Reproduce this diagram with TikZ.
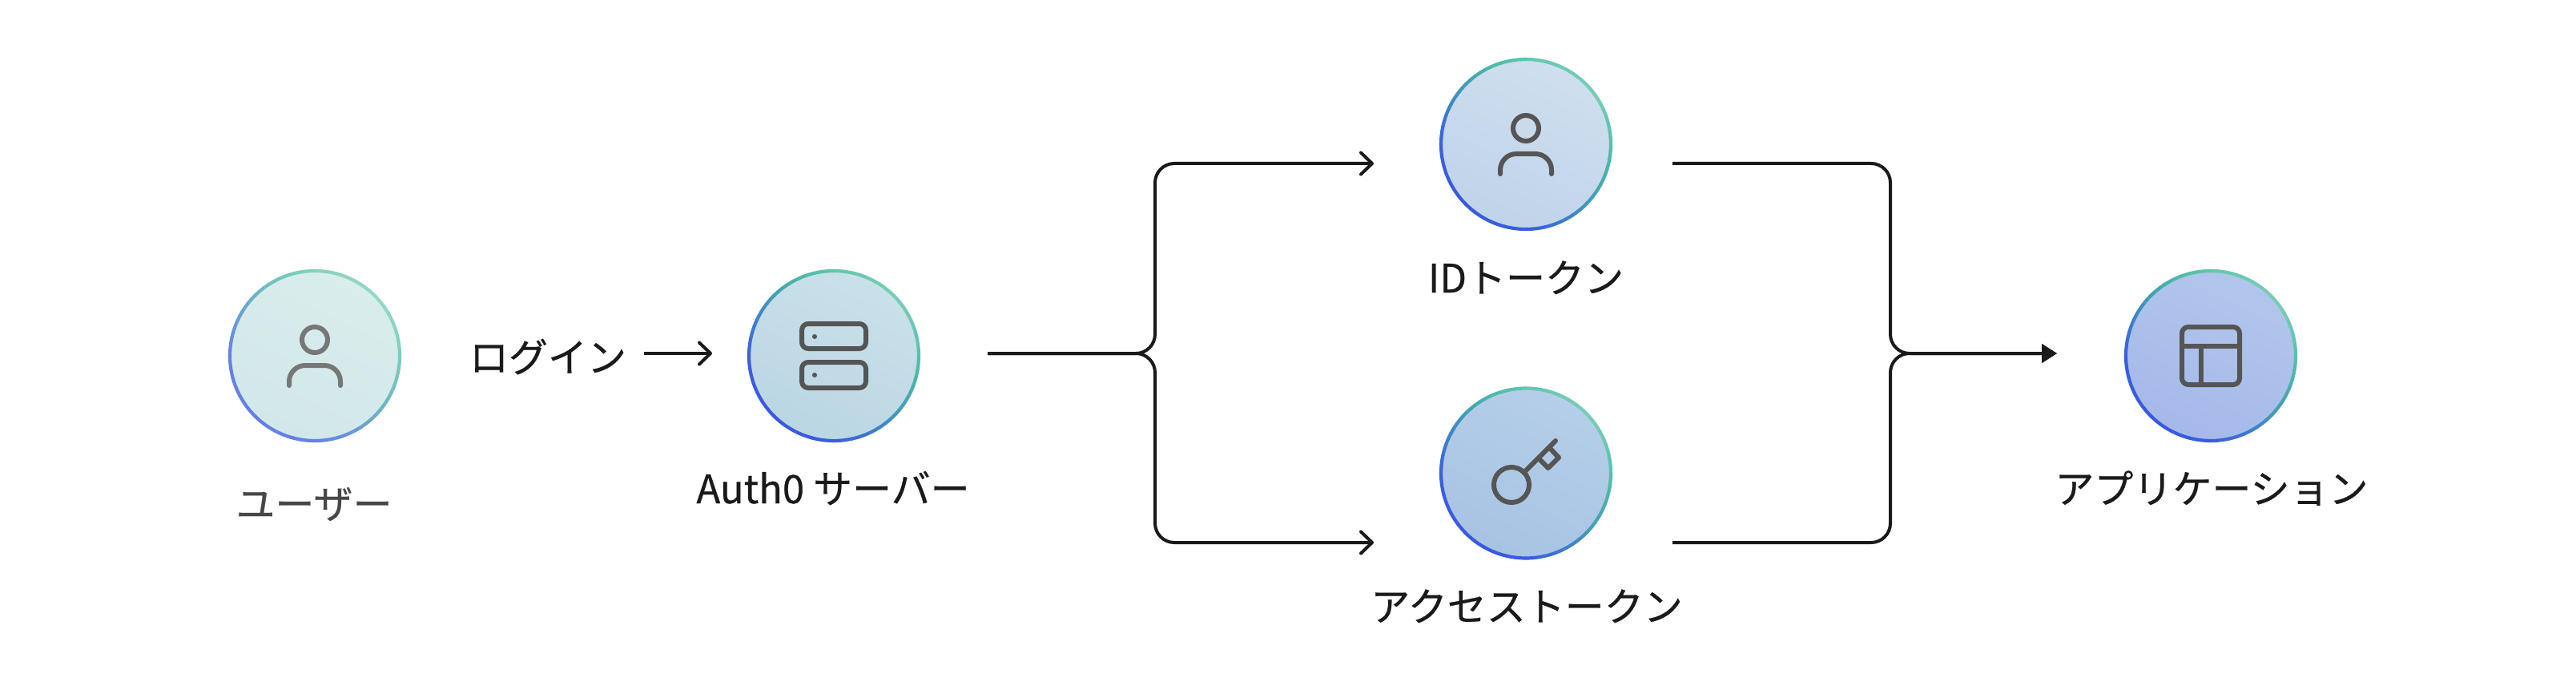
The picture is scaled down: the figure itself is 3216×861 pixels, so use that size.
\documentclass[tikz,border=0pt]{standalone}
\usepackage{fontspec}
\setmainfont[RawFeature={embolden=0.5}]{Noto Sans CJK JP}
\usetikzlibrary{arrows.meta}
\definecolor{ink}{HTML}{1A1A1A}
\definecolor{iconc}{HTML}{555555}
\definecolor{iconl}{HTML}{777777}
\definecolor{ua}{HTML}{D9EDEB}\definecolor{ub}{HTML}{D2E7EA}
\definecolor{aa}{HTML}{CAE1EA}\definecolor{ab}{HTML}{BAD6E3}
\definecolor{ia}{HTML}{CFDFEE}\definecolor{ib}{HTML}{BFD3EA}
\definecolor{ka}{HTML}{B5CFE9}\definecolor{kb}{HTML}{A8C3E3}
\definecolor{pa}{HTML}{B2C6EC}\definecolor{pb}{HTML}{A4B9E9}
% ring stops
\definecolor{s0}{HTML}{3A5CE2}\definecolor{s1}{HTML}{3F78D2}\definecolor{s2}{HTML}{429EB6}
\definecolor{s3}{HTML}{50BAA8}\definecolor{s4}{HTML}{58C0AC}\definecolor{s5}{HTML}{72CCB4}
\definecolor{s6}{HTML}{78CEB8}\definecolor{s7}{HTML}{62C6AE}\definecolor{s8}{HTML}{50BCA8}
\definecolor{s9}{HTML}{3FA0B4}\definecolor{s10}{HTML}{3F80CC}\definecolor{s11}{HTML}{3A60DC}
\definecolor{s12}{HTML}{3A58E2}
\tikzset{
  conn/.style={draw=ink,line width=4pt,rounded corners=24pt},
  openhead/.style={-{Straight Barb[length=14pt,width=27pt,line width=4pt,round]}},
  solidhead/.style={-{Triangle[length=19pt,width=23pt,fill=ink]}},
  lbl/.style={anchor=base,font=\fontsize{49}{56}\selectfont,text=ink,inner sep=0pt},
  icon/.style={draw=iconc,line width=6pt,line cap=round,line join=round},
  disc/.style={circle,minimum size=214pt,inner sep=0pt},
}
% #1 centre node, #2 percent of ring colour (rest white)
\newcommand{\ringat}[2]{%
  \foreach \angA/\angB/\colA/\colB in {-90/-65/s0/s1,-65/-40/s1/s2,-40/-10/s2/s3,-10/0/s3/s4,0/30/s4/s5,30/45/s5/s6,45/90/s6/s7,90/110/s7/s8,110/135/s8/s9,135/155/s9/s10,155/180/s10/s11,180/225/s11/s12,225/270/s12/s0}{%
    \foreach \k in {0,...,5}{%
      \pgfmathsetmacro{\startang}{\angA+(\angB-\angA)*\k/6}%
      \pgfmathsetmacro{\sweep}{(\angB-\angA)/6+0.3}%
      \pgfmathsetmacro{\mixp}{100-100*(\k+0.5)/6}%
      \colorlet{segc}{\colA!\mixp!\colB}%
      \draw[draw=segc!#2!white,line width=4.2pt] (#1.center) ++(\startang:106pt) arc[start angle=\startang,delta angle=\sweep,radius=106pt];
    }%
  }}
\begin{document}
\begin{tikzpicture}[x=1pt,y=-1pt]
\useasboundingbox (0,0) rectangle (3216,861);
\fill[white] (0,0) rectangle (3216,861);

% discs
\node[disc,top color=ua,bottom color=ub,shading angle=-25] (user) at (393,444) {};
\node[disc,top color=aa,bottom color=ab,shading angle=-25] (auth) at (1041,444) {};
\node[disc,top color=ia,bottom color=ib,shading angle=-25] (idt) at (1905,180) {};
\node[disc,top color=ka,bottom color=kb,shading angle=-25] (acc) at (1905,590.5) {};
\node[disc,top color=pa,bottom color=pb,shading angle=-25] (app) at (2760,444) {};
\ringat{user}{78}
\ringat{auth}{100}
\ringat{idt}{100}
\ringat{acc}{100}
\ringat{app}{100}

% user icon
\draw[icon,draw=iconl] (393,424) circle (16pt);
\draw[icon,draw=iconl,rounded corners=20pt] (361,481) -- (361,456) -- (425,456) -- (425,481);
% id icon
\draw[icon] (1905,160) circle (16pt);
\draw[icon,rounded corners=20pt] (1873,217) -- (1873,192) -- (1937,192) -- (1937,217);
% server icon
\draw[icon,rounded corners=8pt] (1001,404) rectangle (1081,435);
\draw[icon,rounded corners=8pt] (1001,452) rectangle (1081,484);
\fill[iconc] (1017,420) circle (3pt);
\fill[iconc] (1017,468) circle (3pt);
% key icon
\draw[icon] (1887,605) circle (22pt);
\draw[icon] (1902.5,589.5) -- (1942,550);
\draw[icon] (1921.7,572.7) -- (1932.7,584) -- (1946,571) -- (1935,559.3);
% app icon
\draw[icon,rounded corners=8pt] (2724,408) rectangle (2796,480);
\draw[icon,line cap=butt] (2724,431.7) -- (2796,431.7);
\draw[icon,line cap=butt] (2747.8,431.7) -- (2747.8,480);

% labels
\node[lbl,text=black!72] (tuser) at (392,647) {ユーザー};
\node[lbl] (tauth) at (1040,628) {Auth0 サーバー};
\node[lbl] (tid) at (1905,365) {IDトークン};
\node[lbl] (tacc) at (1906,775) {アクセストークン};
\node[lbl] (tapp) at (2761,628) {アプリケーション};
\node[lbl] (tlogin) at (684,464) {ログイン};

% connector anchors
\coordinate (loginend) at (803.6,441);
\coordinate (logintip) at (889,441);
\coordinate (splitstart) at (1233,441);
\coordinate (splitmid) at (1442,441);
\coordinate (splittop) at (1442,204);
\coordinate (splitbot) at (1442,677);
\coordinate (tiptop) at (1715,204);
\coordinate (tipbot) at (1715,677);
\coordinate (mergetopstart) at (2088,204);
\coordinate (mergebotstart) at (2088,677);
\coordinate (mergetop) at (2360,204);
\coordinate (mergebot) at (2360,677);
\coordinate (mergemid) at (2360,441);
\coordinate (mergetip) at (2568,441);

\draw[conn,openhead] (loginend) -- (logintip);
\draw[conn,openhead] (splitstart) -- (splitmid) -- (splittop) -- (tiptop);
\draw[conn,openhead] (splitstart) -- (splitmid) -- (splitbot) -- (tipbot);
\draw[conn,solidhead] (mergetopstart) -- (mergetop) -- (mergemid) -- (mergetip);
\draw[conn,solidhead] (mergebotstart) -- (mergebot) -- (mergemid) -- (mergetip);
\end{tikzpicture}
\end{document}
